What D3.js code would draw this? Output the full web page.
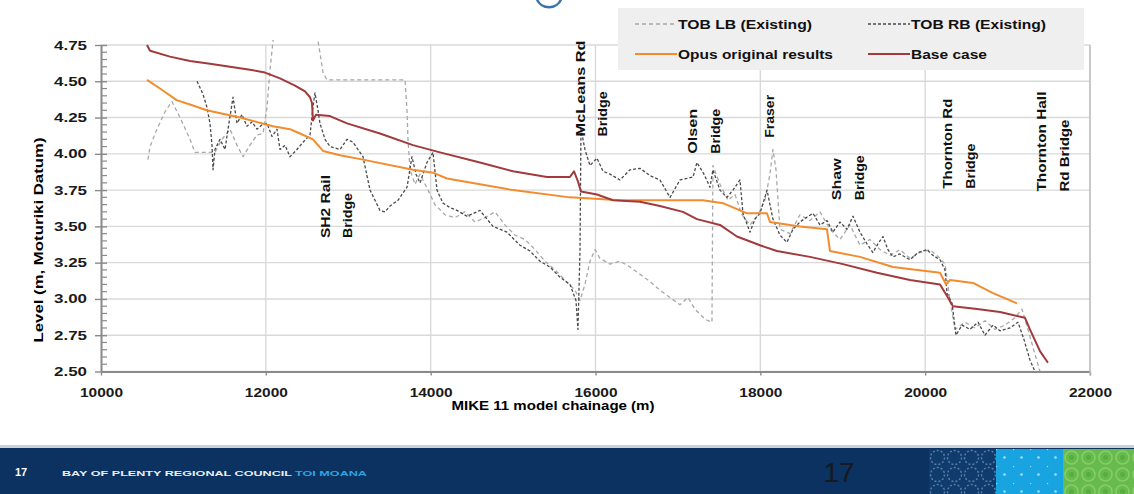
<!DOCTYPE html>
<html>
<head>
<meta charset="utf-8">
<script src="https://cdn.jsdelivr.net/npm/d3@7"></script>
<style>
  body { margin: 0; background: #fff; }
  svg { display: block; }
  text { font-family: "Liberation Sans", Arial, sans-serif; }
</style>
</head>
<body>
<svg id="chart" width="1134" height="494"></svg>
<script>
// ---- Axis ticks ----
const xTicks = [10000, 12000, 14000, 16000, 18000, 20000, 22000];
const yTicks = [2.50, 2.75, 3.00, 3.25, 3.50, 3.75, 4.00, 4.25, 4.50, 4.75];

// ---- Series: chainage (m) and level (m, Moturiki Datum) ----
const baseChainage = [10558,10595,10837,11080,11322,11565,11808,11990,12172,12354,12475,12536,12560,12572,12609,12778,12985,13385,13785,14113,14598,14999,15411,15690,15739,15787,15824,16018,16212,16540,16782,17061,17231,17510,17716,17996,18202,18602,19003,19415,19816,20180,20265,20337,20629,20908,21211,21271,21393,21490];
const baseLevel    = [4.75,4.71,4.67,4.64,4.62,4.60,4.58,4.56,4.52,4.47,4.43,4.39,4.35,4.23,4.27,4.26,4.21,4.14,4.06,4.01,3.94,3.88,3.84,3.84,3.88,3.81,3.74,3.72,3.68,3.67,3.64,3.60,3.55,3.51,3.43,3.37,3.33,3.29,3.24,3.18,3.13,3.10,3.02,2.95,2.93,2.91,2.87,2.79,2.64,2.56];

const opusChainage = [10558,10716,10918,11080,11282,11686,12087,12293,12414,12572,12694,12900,13179,13785,14028,14198,14598,14999,15690,16297,16782,17304,17547,17838,18081,18117,18481,18809,18845,19209,19609,20180,20253,20301,20580,20823,21114];
const opusLevel    = [4.51,4.45,4.37,4.34,4.30,4.25,4.19,4.17,4.14,4.10,4.02,3.99,3.96,3.89,3.87,3.83,3.79,3.75,3.70,3.68,3.68,3.68,3.66,3.59,3.59,3.53,3.50,3.48,3.33,3.29,3.22,3.18,3.10,3.13,3.11,3.04,2.97];

const lbChainage = [10570,10595,10679,10777,10861,10959,11080,11140,11262,11383,11468,11565,11650,11723,11808,11893,11966,12014,12051,12087,12293,12633,12669,12694,12742,13689,13713,13725,13749,13810,13871,13968,14052,14174,14295,14416,14538,14659,14780,14902,15023,15144,15266,15387,15508,15630,15751,15812,15872,15933,15994,16054,16176,16297,16418,16540,16661,16782,16904,17025,17122,17207,17328,17413,17425,17510,17607,17692,17777,17874,17971,18056,18117,18153,18190,18238,18360,18481,18602,18724,18845,18966,19088,19209,19330,19452,19573,19694,19816,19937,20059,20180,20241,20301,20362,20483,20605,20726,20847,20969,21090,21175,21247,21332,21393];
const lbLevel    = [3.96,4.05,4.17,4.29,4.36,4.25,4.10,4.01,4.01,4.01,4.10,4.17,4.06,3.98,4.06,4.13,4.14,4.32,4.58,4.78,4.92,4.78,4.65,4.56,4.51,4.51,4.30,4.10,3.89,3.79,3.86,3.75,3.65,3.58,3.56,3.60,3.53,3.56,3.60,3.51,3.44,3.41,3.34,3.26,3.20,3.13,3.06,2.99,3.10,3.26,3.34,3.28,3.24,3.26,3.22,3.17,3.12,3.06,3.01,2.96,3.01,2.93,2.86,2.84,3.92,3.79,3.68,3.72,3.58,3.51,3.58,3.68,3.86,4.03,3.89,3.48,3.45,3.58,3.54,3.60,3.48,3.41,3.51,3.37,3.41,3.34,3.30,3.34,3.28,3.32,3.34,3.28,3.24,2.99,2.79,2.84,2.80,2.85,2.79,2.82,2.87,2.93,2.79,2.62,2.50];

const rbChainage = [11165,11238,11286,11322,11347,11359,11383,11444,11505,11541,11602,11650,11711,11771,11832,11893,11954,12014,12075,12135,12172,12233,12293,12378,12451,12536,12572,12596,12633,12657,12718,12778,12900,12985,13057,13179,13264,13324,13385,13446,13507,13604,13713,13773,13822,13871,13955,14028,14077,14150,14234,14319,14441,14598,14756,14926,15084,15205,15327,15448,15569,15690,15763,15787,15812,15824,15872,15933,16018,16091,16176,16297,16418,16540,16661,16782,16904,17025,17183,17231,17316,17389,17425,17510,17595,17668,17753,17789,17874,17935,17996,18081,18153,18238,18323,18396,18481,18554,18639,18724,18809,18881,18966,19051,19124,19209,19294,19366,19427,19488,19548,19609,19694,19816,19913,20022,20095,20180,20241,20265,20326,20374,20447,20544,20641,20726,20823,20908,21029,21126,21199,21271,21332];
const rbLevel    = [4.50,4.41,4.32,4.21,4.06,3.89,4.03,4.10,4.03,4.17,4.39,4.21,4.27,4.19,4.22,4.17,4.20,4.21,4.12,4.17,4.03,4.06,3.98,4.03,4.08,4.13,4.32,4.42,4.30,4.21,4.10,4.05,4.03,4.10,4.08,3.98,3.75,3.68,3.61,3.60,3.64,3.68,3.77,3.98,3.86,3.80,3.94,4.01,3.75,3.66,3.63,3.61,3.57,3.61,3.50,3.46,3.37,3.33,3.26,3.22,3.15,3.10,2.99,2.79,3.34,4.17,4.03,3.92,3.97,3.88,3.86,3.82,3.89,3.90,3.85,3.82,3.70,3.82,3.84,3.94,3.86,3.77,3.89,3.75,3.70,3.75,3.82,3.59,3.46,3.55,3.59,3.75,3.55,3.44,3.39,3.48,3.53,3.56,3.59,3.51,3.54,3.46,3.53,3.48,3.57,3.46,3.38,3.32,3.38,3.43,3.34,3.29,3.31,3.27,3.32,3.34,3.30,3.27,3.20,3.04,2.97,2.75,2.82,2.79,2.84,2.75,2.82,2.78,2.80,2.84,2.72,2.58,2.50];

// ---- Bridge annotations ----
const bridgeNames    = [["SH2 Rail","Bridge"],["McLeans Rd","Bridge"],["Olsen","Bridge"],["Fraser"],["Shaw","Bridge"],["Thornton Rd","Bridge"],["Thornton Hall","Rd Bridge"]];
const bridgeChainage = [12718, 15812, 17183, 18117, 18930, 20277, 21417];
const bridgeLevel    = [3.42, 4.12, 4.00, 4.11, 3.68, 3.76, 3.74];

const legendNames = ["TOB LB (Existing)", "TOB RB (Existing)", "Opus original results", "Base case"];

// ---- Layout ----
const svg = d3.select("#chart");
const plot = { left: 101, right: 1090, top: 45, bottom: 371.5 };
const x = d3.scaleLinear().domain([10000, 22000]).range([plot.left, plot.right]);
const y = d3.scaleLinear().domain([2.5, 4.75]).range([plot.bottom, plot.top]);

const zip = (a, b) => a.map((c, i) => [c, b[i]]);
const series = [
  { name: legendNames[0], pts: zip(lbChainage, lbLevel),   color: "#a8a8a8", width: 1.3, dash: "4,3" },
  { name: legendNames[1], pts: zip(rbChainage, rbLevel),   color: "#4a4a4a", width: 1.3, dash: "3,2" },
  { name: legendNames[2], pts: zip(opusChainage, opusLevel), color: "#f28c2e", width: 2, dash: null },
  { name: legendNames[3], pts: zip(baseChainage, baseLevel), color: "#a23a3c", width: 2, dash: null }
];

// small logo arc peeking in at the top
svg.append("path")
  .attr("d", d3.arc()({ innerRadius: 12, outerRadius: 14.5, startAngle: Math.PI * 0.62, endAngle: Math.PI * 1.38 }))
  .attr("transform", "translate(549,-6)")
  .attr("fill", "#3f73a8");

// gridlines
svg.append("g").selectAll("line").data(yTicks).join("line")
  .attr("x1", plot.left).attr("x2", plot.right)
  .attr("y1", d => y(d)).attr("y2", d => y(d))
  .attr("stroke", "#d9d9d9").attr("stroke-width", 1.4);
svg.append("g").selectAll("line").data(xTicks.slice(1)).join("line")
  .attr("x1", d => x(d)).attr("x2", d => x(d))
  .attr("y1", plot.top).attr("y2", plot.bottom)
  .attr("stroke", "#d9d9d9").attr("stroke-width", 1.4);

// series lines
svg.append("clipPath").attr("id", "plotclip").append("rect")
  .attr("x", plot.left).attr("y", plot.top - 5)
  .attr("width", plot.right - plot.left).attr("height", plot.bottom - plot.top + 5);
const line = d3.line().x(d => x(d[0])).y(d => y(d[1]));
svg.append("g").attr("clip-path", "url(#plotclip)")
  .selectAll("path").data(series).join("path")
  .attr("d", d => line(d.pts))
  .attr("fill", "none")
  .attr("stroke", d => d.color)
  .attr("stroke-width", d => d.width)
  .attr("stroke-dasharray", d => d.dash)
  .attr("stroke-linejoin", "round");

// axes
const axisColor = "#8a8a8a";
const yAxis = svg.append("g").attr("transform", `translate(${plot.left},0)`)
  .call(d3.axisLeft(y).tickValues(yTicks).tickFormat(d3.format(".2f")).tickSize(6).tickSizeOuter(0).tickPadding(8));
yAxis.selectAll("text").attr("font-size", 12.5).attr("font-weight", "bold").attr("fill", "#1a1a1a")
  .attr("textLength", 33).attr("lengthAdjust", "spacingAndGlyphs");
const minorY = d3.range(2.55, 4.749, 0.05).filter(v => Math.abs(v / 0.25 - Math.round(v / 0.25)) > 0.01);
yAxis.append("g").selectAll("line").data(minorY).join("line")
  .attr("x1", 0).attr("x2", 6).attr("y1", d => y(d)).attr("y2", d => y(d))
  .attr("stroke", axisColor).attr("stroke-width", 1.2);
yAxis.selectAll(".tick line").attr("stroke", axisColor).attr("stroke-width", 1.4).attr("x2", -6).attr("x1", 6);
yAxis.select(".domain").attr("stroke", axisColor).attr("stroke-width", 2);

const xAxis = svg.append("g").attr("transform", `translate(0,${plot.bottom})`)
  .call(d3.axisBottom(x).tickValues(xTicks).tickFormat(d3.format("d")).tickSize(4).tickSizeOuter(0).tickPadding(13));
xAxis.selectAll("text").attr("font-size", 12).attr("font-weight", "bold").attr("fill", "#1a1a1a")
  .attr("textLength", 43).attr("lengthAdjust", "spacingAndGlyphs");
xAxis.selectAll(".tick line").attr("stroke", axisColor).attr("stroke-width", 1.4);
xAxis.select(".domain").attr("stroke", axisColor).attr("stroke-width", 2);

// right edge of plot frame
svg.append("line").attr("x1", plot.right).attr("x2", plot.right)
  .attr("y1", plot.top).attr("y2", plot.bottom + 4)
  .attr("stroke", "#bdbdbd").attr("stroke-width", 1.4);

// axis titles
svg.append("text").attr("transform", "translate(43,240) rotate(-90)")
  .attr("text-anchor", "middle").attr("font-size", 12).attr("font-weight", "bold")
  .attr("textLength", 205).attr("lengthAdjust", "spacingAndGlyphs")
  .text("Level (m, Moturiki  Datum)");
svg.append("text").attr("x", 553).attr("y", 410)
  .attr("text-anchor", "middle").attr("font-size", 12).attr("font-weight", "bold")
  .attr("textLength", 203).attr("lengthAdjust", "spacingAndGlyphs")
  .text("MIKE 11 model chainage  (m)");

// bridge labels, each line rotated and stacked to the right
const labelLen = { "SH2 Rail": 63, "Bridge": 45, "McLeans Rd": 96, "Olsen": 45, "Fraser": 43,
                   "Shaw": 42, "Thornton Rd": 90, "Thornton Hall": 100, "Rd Bridge": 72 };
const bl = svg.append("g");
bridgeNames.forEach((lines, i) => {
  lines.forEach((t, j) => {
    bl.append("text")
      .attr("transform", `translate(${x(bridgeChainage[i]) + j * 22.5},${y(bridgeLevel[i])}) rotate(-90)`)
      .attr("dy", "0.36em")
      .attr("font-size", 12.5).attr("font-weight", "bold").attr("fill", "#111")
      .attr("textLength", labelLen[t]).attr("lengthAdjust", "spacingAndGlyphs")
      .text(t);
  });
});

// legend
const lg = svg.append("g");
lg.append("rect").attr("x", 618).attr("y", 8).attr("width", 466).attr("height", 62).attr("fill", "#efefef");
const legendPos = [[635, 24], [868, 24], [635, 54], [868, 54]];
const legendLen = [134, 135, 155, 76];
series.forEach((s, i) => {
  const [lx, ly] = legendPos[i];
  lg.append("line").attr("x1", lx).attr("x2", lx + 42).attr("y1", ly).attr("y2", ly)
    .attr("stroke", s.color).attr("stroke-width", s.dash ? 1.3 : 2).attr("stroke-dasharray", s.dash);
  lg.append("text").attr("x", lx + 43).attr("y", ly).attr("dy", "0.36em")
    .attr("font-size", 12.5).attr("font-weight", "bold").attr("fill", "#111")
    .attr("textLength", legendLen[i]).attr("lengthAdjust", "spacingAndGlyphs")
    .text(s.name);
});

// footer band with patterned tiles
const defs = svg.append("defs");
const p1 = defs.append("pattern").attr("id", "tileNavy").attr("patternUnits", "userSpaceOnUse")
  .attr("width", 17).attr("height", 17).attr("x", 929).attr("y", 449);
p1.append("rect").attr("width", 17).attr("height", 17).attr("fill", "#0f3c6c");
p1.append("circle").attr("cx", 8.5).attr("cy", 8.5).attr("r", 7).attr("fill", "none").attr("stroke", "#5a7ea8").attr("stroke-width", 1.4).attr("stroke-dasharray", "2,2");
const p2 = defs.append("pattern").attr("id", "tileCyan").attr("patternUnits", "userSpaceOnUse")
  .attr("width", 17).attr("height", 17).attr("x", 996).attr("y", 449);
p2.append("rect").attr("width", 17).attr("height", 17).attr("fill", "#18a4e0");
p2.append("circle").attr("cx", 8.5).attr("cy", 8.5).attr("r", 1.3).attr("fill", "#a9dcf3");
p2.append("circle").attr("cx", 0).attr("cy", 0).attr("r", 1.3).attr("fill", "#a9dcf3");
const p3 = defs.append("pattern").attr("id", "tileGreen").attr("patternUnits", "userSpaceOnUse")
  .attr("width", 17).attr("height", 17).attr("x", 1063).attr("y", 449);
p3.append("rect").attr("width", 17).attr("height", 17).attr("fill", "#66bb4c");
p3.append("circle").attr("cx", 8.5).attr("cy", 8.5).attr("r", 6.5).attr("fill", "none").attr("stroke", "#86cc68").attr("stroke-width", 1.6);
p3.append("circle").attr("cx", 8.5).attr("cy", 8.5).attr("r", 2.5).attr("fill", "#58ad40");

const ft = svg.append("g");
ft.append("rect").attr("x", 0).attr("y", 445).attr("width", 1134).attr("height", 3).attr("fill", "#c9d1da");
ft.append("rect").attr("x", 0).attr("y", 448).attr("width", 1134).attr("height", 46).attr("fill", "#0b3260");
ft.append("rect").attr("x", 929).attr("y", 449).attr("width", 67).attr("height", 45).attr("fill", "url(#tileNavy)");
ft.append("rect").attr("x", 996).attr("y", 449).attr("width", 67).attr("height", 45).attr("fill", "url(#tileCyan)");
ft.append("rect").attr("x", 1063).attr("y", 449).attr("width", 71).attr("height", 45).attr("fill", "url(#tileGreen)");
ft.append("text").attr("x", 15).attr("y", 476).attr("font-size", 11).attr("font-weight", "bold").attr("fill", "#fff").text("17");
ft.append("text").attr("x", 62).attr("y", 475.5).attr("font-size", 8).attr("font-weight", "bold").attr("fill", "#e8eef5")
  .attr("textLength", 230).attr("lengthAdjust", "spacingAndGlyphs").text("BAY OF PLENTY REGIONAL COUNCIL");
ft.append("text").attr("x", 295).attr("y", 475.5).attr("font-size", 8).attr("font-weight", "bold").attr("fill", "#2aa6e0")
  .attr("textLength", 72).attr("lengthAdjust", "spacingAndGlyphs").text("TOI MOANA");
ft.append("text").attr("x", 839).attr("y", 482).attr("text-anchor", "middle").attr("font-size", 28).attr("fill", "#141a22").text("17");
</script>
</body>
</html>
